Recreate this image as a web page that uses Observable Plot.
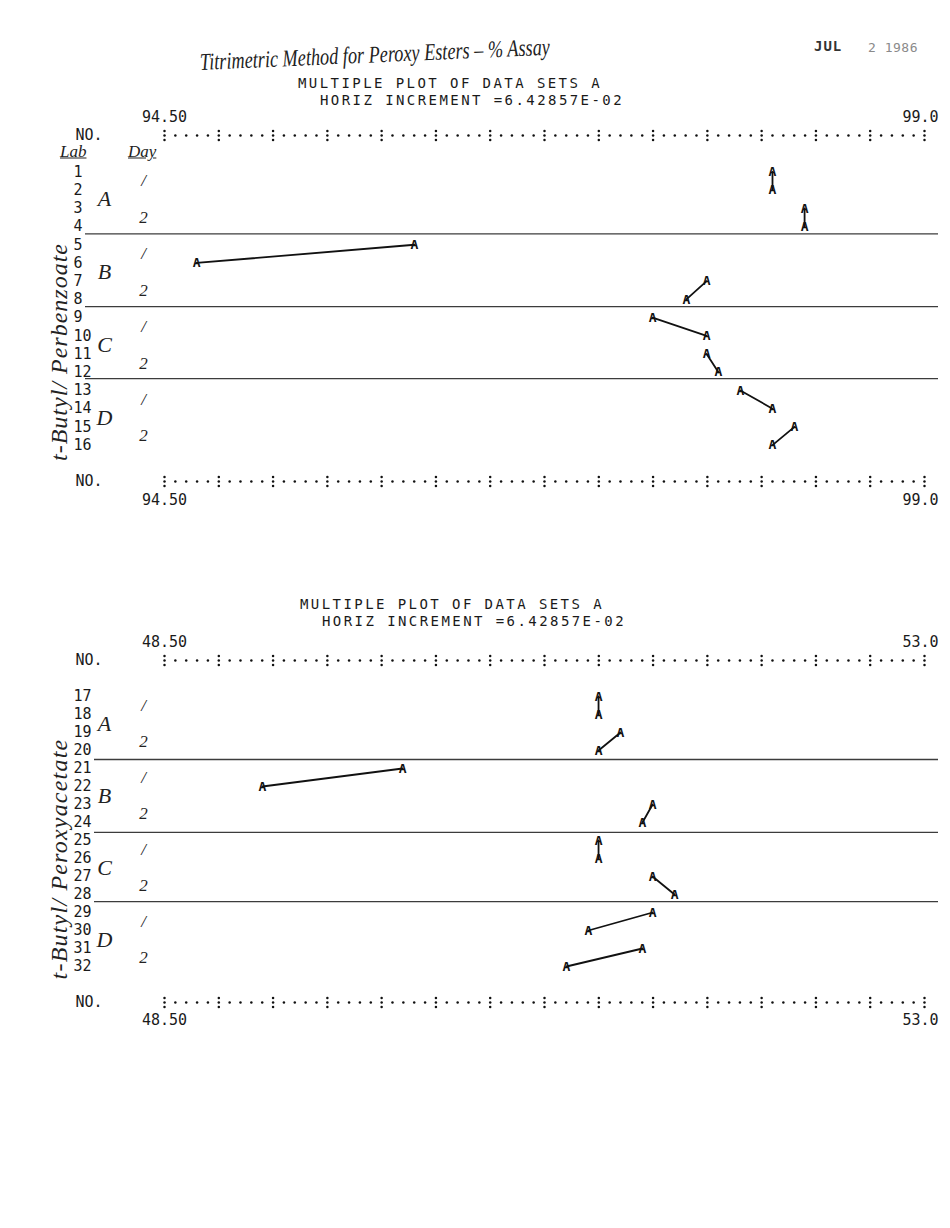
<!DOCTYPE html>
<html>
<head>
<meta charset="utf-8">
<script src="https://cdn.jsdelivr.net/npm/d3@7"></script>
<script src="https://cdn.jsdelivr.net/npm/@observablehq/plot@0.6"></script>
<style>
  body { margin: 0; background: #fff; }
  #page { position: relative; width: 950px; height: 1228px; background: #fff; overflow: hidden; }
  .abs { position: absolute; white-space: nowrap; transform: translateY(-50%); line-height: 1; }
  .mono { font-family: "DejaVu Sans Mono", monospace; font-size: 14px; letter-spacing: 2.43px; color: #1a1a1a; }
  .hand { font-family: "Liberation Serif", serif; font-style: italic; color: #222; }
  #page svg { position: absolute; left: 0; }
</style>
</head>
<body>
<div id="page">
  <div class="abs hand" style="left:200px; top:62px; font-size:24px; transform-origin:0 50%; transform:translateY(-50%) rotate(-2.5deg) scaleX(0.76);">Titrimetric Method for Peroxy Esters – % Assay</div>
  <div class="abs mono" style="left:814px; top:46px; font-size:14px; letter-spacing:1px; font-weight:bold; color:#333;">JUL</div>
  <div class="abs mono" style="left:868px; top:47px; font-size:13px; letter-spacing:0.5px; color:#8a8a8a;">2 1986</div>
  <div class="abs mono" style="left:298px; top:83px;">MULTIPLE PLOT OF DATA SETS A</div>
  <div class="abs mono" style="left:320px; top:100px;">HORIZ INCREMENT =6.42857E-02</div>
  <div class="abs hand" style="left:60px; top:151px; font-size:17px; text-decoration:underline;">Lab</div>
  <div class="abs hand" style="left:128px; top:151px; font-size:17px; text-decoration:underline;">Day</div>
  <div class="abs hand" style="left:59px; top:352px; font-size:24px; letter-spacing:1px; transform:translate(-50%,-50%) rotate(-90deg);">t-Butyl/ Perbenzoate</div>

  <div class="abs mono" style="left:300px; top:604px;">MULTIPLE PLOT OF DATA SETS A</div>
  <div class="abs mono" style="left:322px; top:621px;">HORIZ INCREMENT =6.42857E-02</div>
  <div class="abs hand" style="left:59px; top:859px; font-size:24px; letter-spacing:1.2px; transform:translate(-50%,-50%) rotate(-90deg);">t-Butyl/ Peroxyacetate</div>
</div>
<script>
// ---- data ----
const increment = 6.42857e-2;

const topRows = [1, 2, 3, 4, 5, 6, 7, 8, 9, 10, 11, 12, 13, 14, 15, 16];
const topValues = [98.10, 98.10, 98.29, 98.29, 95.98, 94.69, 97.71, 97.59,
                   97.39, 97.71, 97.71, 97.78, 97.91, 98.10, 98.23, 98.10];
const topDomain = [94.5, 99.0];
const topTickLabels = ["94.50", "99.0"];
const topDividers = [4.4, 8.4, 12.35];

const bottomRows = [17, 18, 19, 20, 21, 22, 23, 24, 25, 26, 27, 28, 29, 30, 31, 32];
const bottomValues = [51.07, 51.07, 51.20, 51.07, 49.91, 49.08, 51.39, 51.33,
                      51.07, 51.07, 51.39, 51.52, 51.39, 51.01, 51.33, 50.88];
const bottomDomain = [48.5, 53.0];
const bottomTickLabels = ["48.50", "53.0"];
const bottomDividers = [20.5, 24.55, 28.4];

const labs = ["A", "B", "C", "D"];
const dayMarks = ["/", "2"];
const axisRowLabel = "NO.";
const pointGlyph = "A";

const MONO = "DejaVu Sans Mono";
const HAND = "Liberation Serif";

function panel({rows, values, domain, tickLabels, dividers, yRange, height, top, ml}) {
  const pts = rows.map((r, i) => ({row: r, value: values[i], pair: Math.floor(i / 2)}));
  const nCols = Math.round((domain[1] - domain[0]) / increment);
  const cols = d3.range(nCols + 1).map(i => ({v: domain[0] + i * increment, major: i % 5 === 0}));
  const majors = cols.filter(c => c.major);
  const r0 = rows[0], r1 = rows[rows.length - 1];
  const axisRows = [r0 - 2, r1 + 2];
  const labelRows = [r0 - 3, r1 + 3];
  const labGroups = labs.map((l, g) => ({t: l, row: rows[g * 4] + 1.5}));
  const dayGroups = d3.range(rows.length / 2).map(k => ({t: dayMarks[k % 2], row: rows[k * 2] + 0.5}));
  const leftTicks = labelRows.map(lr => ({v: domain[0], row: lr, t: tickLabels[0]}));
  const rightTicks = labelRows.map(lr => ({v: domain[1], row: lr, t: tickLabels[1]}));

  const marks = [
    Plot.ruleY(dividers, {stroke: "#3c3c3c", strokeWidth: 1.3}),
  ];
  axisRows.forEach(ar => {
    marks.push(Plot.dot(cols, {x: "v", y: () => ar, r: 1.25, fill: "#111", stroke: "none"}));
    marks.push(Plot.dot(majors, {x: "v", y: () => ar, dy: -4.5, r: 1.25, fill: "#111", stroke: "none"}));
    marks.push(Plot.dot(majors, {x: "v", y: () => ar, dy: 4.5, r: 1.25, fill: "#111", stroke: "none"}));
  });
  marks.push(
    Plot.text(axisRows, {y: d => d, text: () => axisRowLabel, frameAnchor: "left", dx: 75 - ml, textAnchor: "start",
      fontFamily: MONO, fontSize: 15, fill: "#1a1a1a"}),
    Plot.text(leftTicks, {x: "v", y: "row", text: "t", textAnchor: "middle",
      fontFamily: MONO, fontSize: 15, fill: "#1a1a1a"}),
    Plot.text(rightTicks, {x: "v", y: "row", text: "t", textAnchor: "end", dx: 14,
      fontFamily: MONO, fontSize: 15, fill: "#1a1a1a"}),
    Plot.text(rows, {y: d => d, text: d => String(d), frameAnchor: "left", dx: 73 - ml, textAnchor: "start",
      fontFamily: MONO, fontSize: 15, fill: "#1a1a1a"}),
    Plot.text(labGroups, {y: "row", text: "t", frameAnchor: "left", dx: 104 - ml, textAnchor: "middle",
      fontFamily: HAND, fontStyle: "italic", fontSize: 22, fill: "#222"}),
    Plot.text(dayGroups, {y: "row", text: "t", frameAnchor: "left", dx: 143 - ml, textAnchor: "middle",
      fontFamily: HAND, fontStyle: "italic", fontSize: 17, fill: "#222"}),
    Plot.line(pts, {x: "value", y: "row", z: "pair", stroke: "#111", strokeWidth: 1.8}),
    Plot.text(pts, {x: "value", y: "row", text: () => pointGlyph, fontFamily: MONO, fontSize: 13,
      fontWeight: "bold", fill: "#111"})
  );

  const svg = Plot.plot({
    width: 950, height,
    marginLeft: ml, marginRight: 12, marginTop: 0, marginBottom: 0,
    x: {domain, range: [164, 924], axis: null},
    y: {domain: [r0 - 2, r1 + 2], range: yRange, axis: null},
    style: {background: "transparent", overflow: "visible"},
    marks
  });
  svg.style.top = top + "px";
  return svg;
}

const page = document.getElementById("page");
page.appendChild(panel({rows: topRows, values: topValues, domain: topDomain, tickLabels: topTickLabels,
  dividers: topDividers, yRange: [135, 481], height: 545, top: 0, ml: 85}));
page.appendChild(panel({rows: bottomRows, values: bottomValues, domain: bottomDomain, tickLabels: bottomTickLabels,
  dividers: bottomDividers, yRange: [115, 457], height: 683, top: 545, ml: 94}));
</script>
</body>
</html>
